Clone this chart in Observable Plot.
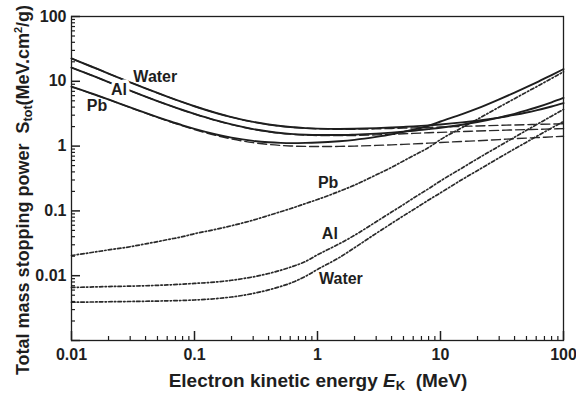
<!DOCTYPE html>
<html><head><meta charset="utf-8">
<script src="https://cdn.jsdelivr.net/npm/d3@7"></script>
<script src="https://cdn.jsdelivr.net/npm/@observablehq/plot@0.6"></script>
<style>
body{margin:0;background:#fff}
</style>
</head><body><div id="chart"></div>
<script>
// Electron kinetic energy (MeV)
const energy = [0.01,0.015,0.02,0.03,0.04,0.05,0.06,0.08,0.1,0.15,0.2,0.3,0.4,0.5,0.6,0.8,1,1.5,2,3,4,5,6,8,10,15,20,30,40,50,60,80,100];
// Collision mass stopping power (MeV cm2/g)
const waterCol = [22.56,16.47,13.17,9.653,7.777,6.603,5.797,4.757,4.115,3.238,2.793,2.355,2.148,2.034,1.963,1.886,1.849,1.822,1.824,1.846,1.870,1.892,1.911,1.941,1.968,2.014,2.046,2.090,2.121,2.144,2.162,2.190,2.211];
const alCol    = [16.27,12.1,9.68,7.16,5.80,4.95,4.36,3.60,3.13,2.48,2.15,1.82,1.67,1.58,1.53,1.48,1.46,1.45,1.46,1.49,1.52,1.55,1.57,1.61,1.63,1.68,1.71,1.75,1.78,1.80,1.81,1.84,1.86];
const pbCol    = [8.24,6.35,5.22,3.93,3.22,2.77,2.46,2.05,1.80,1.46,1.29,1.13,1.06,1.025,1.005,0.99,0.985,0.99,1.0,1.025,1.045,1.065,1.08,1.11,1.135,1.18,1.21,1.26,1.30,1.33,1.35,1.39,1.42];
// Radiative mass stopping power (MeV cm2/g)
const waterRad = [0.0039,0.00393,0.00396,0.0040,0.00403,0.00406,0.00409,0.00415,0.00422,0.00443,0.00469,0.00532,0.00603,0.00681,0.00765,0.0098,0.0125,0.019,0.027,0.045,0.064,0.084,0.104,0.147,0.19,0.305,0.42,0.66,0.905,1.15,1.40,1.90,2.40];
const alRad    = [0.0066,0.0067,0.0068,0.0069,0.0070,0.0071,0.0072,0.0074,0.0076,0.0080,0.0085,0.0096,0.0108,0.0121,0.0135,0.0166,0.021,0.031,0.042,0.068,0.096,0.125,0.157,0.22,0.29,0.46,0.64,1.00,1.37,1.75,2.13,2.90,3.68];
const pbRad    = [0.0205,0.023,0.025,0.028,0.031,0.0335,0.036,0.040,0.0445,0.052,0.059,0.072,0.085,0.097,0.108,0.130,0.150,0.20,0.25,0.36,0.47,0.59,0.71,0.95,1.26,1.93,2.6,4.0,5.4,6.8,8.2,11.1,14.0];

const materials = ["Water","Al","Pb"];
const colSeries = [waterCol, alCol, pbCol];
const radSeries = [waterRad, alRad, pbRad];

// In-plot labels
const labelText = ["Water","Al","Pb","Pb","Al","Water"];
const labelE    = [0.048,0.0243,0.0161,1.22,1.26,1.55];
const labelS    = [11.8,7.41,4.2,0.272,0.0445,0.0090];

// Axis ticks
const xMajor = [0.01,0.1,1,10,100];
const yMajor = [0.001,0.01,0.1,1,10,100];
const yLabeled = [0.01,0.1,1,10,100];
const xMinor = [], yMinor = [];
for (const p of [0.01,0.1,1,10]) for (let m = 2; m <= 9; m++) xMinor.push(+(m*p).toPrecision(3));
for (const p of [0.001,0.01,0.1,1,10]) for (let m = 2; m <= 9; m++) yMinor.push(+(m*p).toPrecision(3));

const colRows = [], radRows = [], totRows = [];
materials.forEach((mat, k) => {
  energy.forEach((E, i) => {
    colRows.push({mat, E, S: colSeries[k][i]});
    radRows.push({mat, E, S: radSeries[k][i]});
    totRows.push({mat, E, S: colSeries[k][i] + radSeries[k][i]});
  });
});
const labels = labelText.map((t, i) => ({t, E: labelE[i], S: labelS[i], halo: i === 1}));

const W = 576, H = 394, mL = 71, mR = 13, mT = 16, mB = 54;
const plotW = W - mL - mR, plotH = H - mT - mB;
const ink = "#1e1e1e";
const font = "'Liberation Sans', Arial, sans-serif";
const chart = Plot.plot({
  width: W, height: H,
  marginLeft: mL, marginRight: mR, marginTop: mT, marginBottom: mB,
  x: {type: "log", domain: [0.01, 100]},
  y: {type: "log", domain: [0.001, 100]},
  marks: [
    Plot.line(colRows, {x: "E", y: "S", z: "mat", stroke: "#2a2a2a", strokeWidth: 1.4, strokeDasharray: "9,4", curve: "monotone-x"}),
    Plot.line(radRows, {x: "E", y: "S", z: "mat", stroke: "#2a2a2a", strokeWidth: 1.7, strokeDasharray: "3.5,2.2,1.4,2.2", curve: "monotone-x"}),
    Plot.line(totRows, {x: "E", y: "S", z: "mat", stroke: ink, strokeWidth: 1.9, curve: "monotone-x"}),
    Plot.text(labels.filter(d => d.halo), {x: "E", y: "S", text: "t", fontFamily: font, fontSize: 16, fontWeight: "bold", fill: ink, stroke: "white", strokeWidth: 7}),
    Plot.text(labels.filter(d => !d.halo), {x: "E", y: "S", text: "t", fontFamily: font, fontSize: 16, fontWeight: "bold", fill: ink}),
    Plot.frame({stroke: ink, strokeWidth: 1.3}),
    Plot.tickX(xMajor, {x: d => d, stroke: ink, strokeWidth: 1.5, insetTop: plotH - 9}),
    Plot.tickX(xMinor, {x: d => d, stroke: ink, strokeWidth: 1.2, insetTop: plotH - 4}),
    Plot.tickY(yMajor, {y: d => d, stroke: ink, strokeWidth: 1.5, insetRight: plotW - 9}),
    Plot.tickY(yMinor, {y: d => d, stroke: ink, strokeWidth: 1.2, insetRight: plotW - 4}),
    Plot.axisX({ticks: xMajor, tickSize: 0, tickPadding: 8, tickFormat: d => String(d), label: null, fontFamily: font, fontSize: 16, fontWeight: "bold", fill: ink}),
    Plot.axisY({ticks: yLabeled, tickSize: 0, tickPadding: 5, tickFormat: d => String(d), label: null, fontFamily: font, fontSize: 16, fontWeight: "bold", fill: ink})
  ]
});
document.getElementById("chart").appendChild(chart);

const svg = d3.select(chart);
svg.attr("font-family", font).attr("font-weight", "bold");
const xl = svg.append("text").attr("x", 318).attr("y", 387).attr("text-anchor", "middle")
  .attr("font-family", font).attr("font-size", 19).attr("font-weight", "bold").attr("fill", ink);
xl.append("tspan").text("Electron kinetic energy ");
xl.append("tspan").attr("font-style", "italic").text("E");
xl.append("tspan").attr("font-size", 13).attr("dy", 3).text("K");
xl.append("tspan").attr("dy", -3).text("  (MeV)");

const yl = svg.append("text").attr("transform", "translate(29,190) rotate(-90)").attr("text-anchor", "middle")
  .attr("font-family", font).attr("font-size", 18).attr("font-weight", "bold").attr("fill", ink);
yl.append("tspan").text("Total mass stopping power  S");
yl.append("tspan").attr("font-size", 12.5).attr("dy", 3).text("tot");
yl.append("tspan").attr("dy", -3).text("(MeV.cm");
yl.append("tspan").attr("font-size", 11).attr("dy", -7).text("2");
yl.append("tspan").attr("dy", 7).text("/g)");
</script>
</body></html>
